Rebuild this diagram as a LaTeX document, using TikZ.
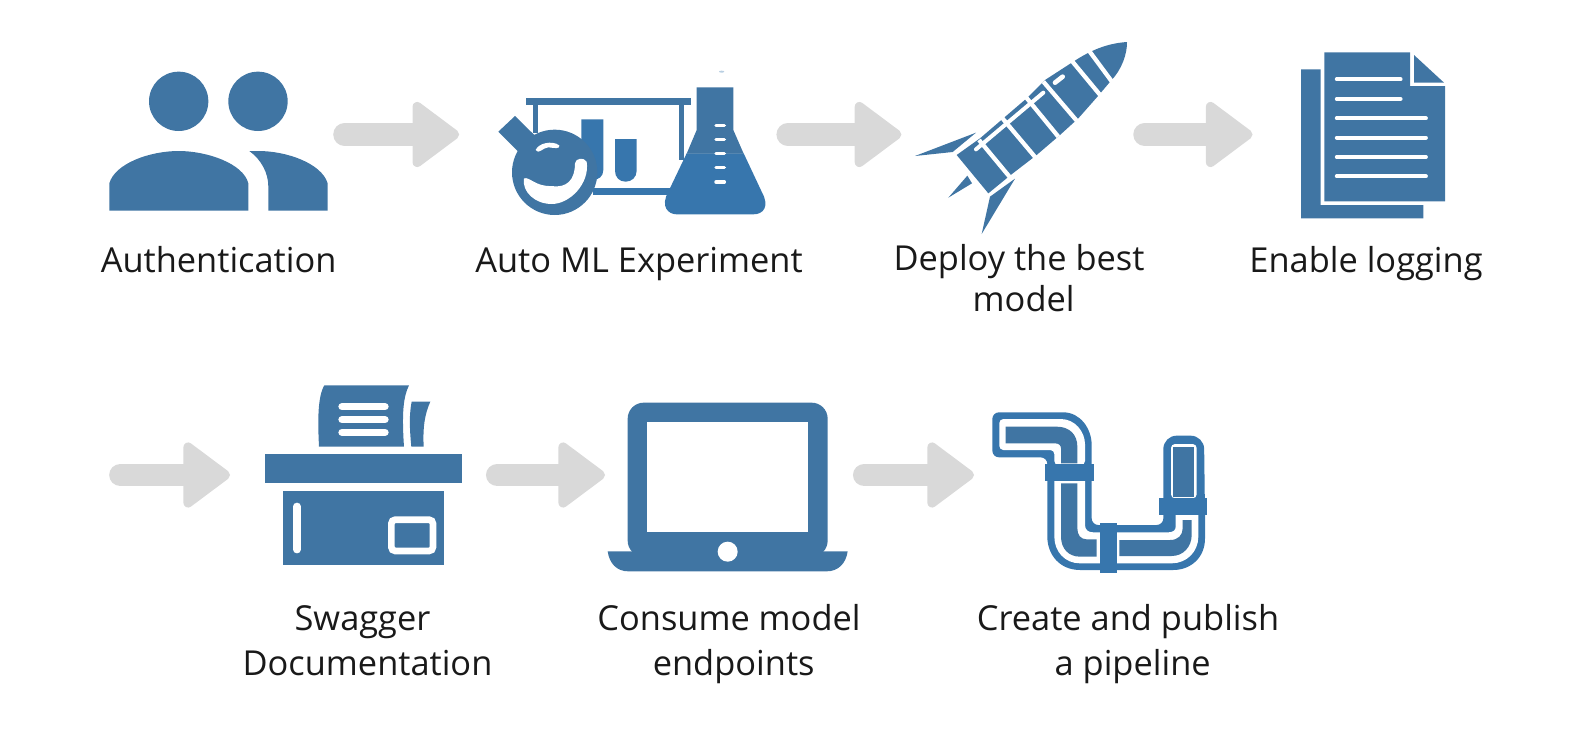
\documentclass[tikz,border=0pt]{standalone}
\usepackage{fontspec}
\setmainfont{Open Sans}
\usetikzlibrary{arrows.meta}
\definecolor{iconblue}{HTML}{4075A3}
\definecolor{pipeblue}{HTML}{3776AD}
\definecolor{arrowgray}{HTML}{D9D9D9}
\tikzset{
  iconbox/.style={inner sep=0pt,minimum height=30pt},
  flowarrow/.style={draw=arrowgray,line width=17pt,line cap=round,
    -{Triangle[length=37.5pt,width=54pt,round,line width=7pt,fill=arrowgray,color=arrowgray]}},
  caption/.style={font=\fontsize{25.8}{33.6}\selectfont,text=black!90,align=center,anchor=base},
  iconfill/.style={fill=iconblue,draw=none},
  pipefill/.style={fill=pipeblue,draw=none},
  pipeinner/.style={fill=iconblue,draw=none},
  whitefill/.style={fill=white,draw=none},
  whiteline/.style={draw=white,line cap=round},
  zoomed/.style={scale=0.33333}
}
\begin{document}
\begin{tikzpicture}[x=0.75pt,y=0.75pt,yscale=-1]
\useasboundingbox (0,0) rectangle (1595,753);

% Icon boxes, the arrows run between them
\node (authicon) [iconbox,minimum width=183.4pt] at (222,134.5) {};
\node (mlicon) [iconbox,minimum width=246pt] at (623.5,134.5) {};
\node (rocketicon) [iconbox,minimum width=182pt] at (1023,134.5) {};
\node (logicon) [iconbox,minimum width=148pt] at (1351.5,134.5) {};
\coordinate (swaggerin) at (120.5,475);
\node (swaggericon) [iconbox,minimum width=200pt] at (363.7,475) {};
\node (laptopicon) [iconbox,minimum width=194pt] at (734.7,475) {};
\node (pipeicon) [iconbox,minimum width=184pt] at (1097,475) {};

\draw [flowarrow] (authicon.east) -- (mlicon.west);
\draw [flowarrow] (mlicon.east) -- (rocketicon.west);
\draw [flowarrow] (rocketicon.east) -- (logicon.west);
\draw [flowarrow] (swaggerin) -- (swaggericon.west);
\draw [flowarrow] (swaggericon.east) -- (laptopicon.west);
\draw [flowarrow] (laptopicon.east) -- (pipeicon.west);

%Shape: two people
\begin{scope}[shift={(100,60)},zoomed]
\fill [iconfill] (236,124) circle (89);
\fill [iconfill] (474,124) circle (89);
\fill [iconfill] (28,452) -- (28,370) .. controls (45,310) and (150,273) .. (236,273) .. controls (320,273) and (430,310) .. (445,370) -- (445,452) -- cycle;
\fill [iconfill] (448,273) .. controls (485,300) and (505,340) .. (505,380) -- (505,452) -- (683,452) -- (683,370) .. controls (665,310) and (560,273) .. (475,273) -- cycle;
\end{scope}

%Shape: table with flasks
\begin{scope}[shift={(480,60)},zoomed]
\fill [iconfill] (139,113) rectangle (633,135);
\fill [iconfill] (160,135) rectangle (175,220);
\fill [iconfill] (598,135) rectangle (613,300);
\fill [pipefill] (340,383) rectangle (580,405);
\fill [pipefill] (304,178) -- (370,178) -- (370,330) .. controls (370,350) and (355,360) .. (337,360) .. controls (318,360) and (304,350) .. (304,330) -- cycle;
\fill [pipefill] (405,237) -- (470,237) -- (470,332) .. controls (470,352) and (455,365) .. (437,365) .. controls (418,365) and (405,352) .. (405,332) -- cycle;
% round flask
\fill [iconfill] (55,215) -- (105,168) -- (170,232) -- (120,280) -- cycle;
\fill [iconfill] (224,337) circle (128);
\fill [whitefill] (132,355) .. controls (150,350) and (165,380) .. (215,378) .. controls (260,385) and (285,360) .. (285,310) .. controls (287,295) and (310,290) .. (320,305) .. controls (330,370) and (270,432) .. (215,432) .. controls (165,432) and (125,395) .. (132,355) -- cycle;
\fill [whitefill] (167,270) .. controls (175,250) and (215,240) .. (238,256) .. controls (240,268) and (225,264) .. (205,262) .. controls (190,262) and (175,285) .. (167,270) -- cycle;
% conical flask
\fill [pipefill] (620,280) -- (565,395) .. controls (540,440) and (565,463) .. (590,463) -- (820,463) .. controls (850,463) and (870,440) .. (845,395) -- (791,280) -- cycle;
\fill [iconfill] (650,82) -- (760,82) -- (760,210) -- (791,281) -- (620,281) -- (650,210) -- cycle;
\foreach \ypos in {196,238,280,323,366}
  \draw [whiteline,line width=2.6pt] (708,\ypos) -- (733,\ypos);
\fill [fill=pipeblue!35] (725,35) ellipse (8 and 3);
\end{scope}

%Shape: rocket
\begin{scope}[shift={(890,30)},zoomed]
\fill [iconfill] (711,36) .. controls (650,40) and (600,62) .. (550,95) -- (465,150) -- (410,205) -- (340,265) -- (270,325) -- (200,375) -- (295,490) -- (362,435) -- (440,375) -- (510,315) -- (565,265) -- (625,197) -- (663,152) .. controls (695,120) and (712,70) .. (711,36) -- cycle;
\foreach \xa/\ya/\xb/\yb in {597/62/668/158,545/92/632/197,460/155/560/272,405/198/505/320,335/262/436/382,267/330/360/442}
  \draw [draw=white,line width=3.2pt] (\xa,\ya) -- (\xb,\yb);
\draw [whiteline,line width=3pt] (258,358) -- (460,188);
\draw [whiteline,line width=3.5pt] (495,158) -- (518,140);
\fill [iconfill] (258,308) -- (75,378) -- (188,366) -- cycle;
\fill [iconfill] (232,437) -- (175,503) -- (246,460) -- cycle;
\fill [iconfill] (375,446) -- (300,500) -- (275,612) -- cycle;
\end{scope}

%Shape: documents
\begin{scope}[shift={(1270,40)},zoomed]
\fill [iconfill] (93,88) -- (152,88) -- (152,495) -- (460,495) -- (460,535) -- (93,535) -- cycle;
\fill [iconfill] (163,37) -- (420,37) -- (420,138) -- (525,138) -- (525,484) -- (163,484) -- cycle;
\fill [iconfill] (432,45) -- (522,128) -- (432,128) -- cycle;
\foreach \ypos in {118,177}
  \draw [whiteline,line width=2.8pt] (200,\ypos) -- (392,\ypos);
\foreach \ypos in {235,293,351,409}
  \draw [whiteline,line width=2.8pt] (200,\ypos) -- (468,\ypos);
\end{scope}

%Shape: printer
\begin{scope}[shift={(250,370)},zoomed]
\fill [iconfill] (223,46) -- (477,46) .. controls (460,80) and (455,130) .. (462,230) -- (207,230) .. controls (203,150) and (203,80) .. (223,46) -- cycle;
\fill [iconfill] (485,95) -- (541,95) .. controls (525,130) and (518,170) .. (521,230) -- (484,230) .. controls (478,170) and (478,130) .. (485,95) -- cycle;
\foreach \ypos in {110,149,187}
  \draw [whiteline,line width=5.5pt] (276,\ypos) -- (405,\ypos);
\fill [iconfill] (46,253) rectangle (636,340);
\fill [iconfill] (100,362) rectangle (582,584);
\draw [whiteline,line width=5.5pt] (141,409) -- (141,539);
\draw [draw=white,line width=5pt,rounded corners=3pt] (424,449) rectangle (549,543);
\end{scope}

%Shape: laptop
\begin{scope}[shift={(600,390)},zoomed]
\fill [iconfill] [rounded corners=12pt] (83,38) rectangle (683,500);
\fill [whitefill] (142,96) rectangle (624,425);
\fill [iconfill] (23,484) -- (743,484) .. controls (738,520) and (715,544) .. (680,544) -- (85,544) .. controls (50,544) and (28,520) .. (23,484) -- cycle;
\fill [whitefill] (383,485) circle (30);
\end{scope}

%Shape: pipe
\begin{scope}[shift={(960,395)},zoomed]
\fill [pipefill] [rounded corners=5pt] (97,52) -- (290,52) .. controls (360,52) and (395,100) .. (395,170) -- (395,390) -- (610,390) [rounded corners=10pt] -- (610,122) -- (732,122) [sharp corners] -- (735,360) -- (735,430) .. controls (735,490) and (690,525) .. (640,525) -- (360,525) .. controls (300,525) and (262,480) .. (262,425) [rounded corners=5pt] -- (262,187) -- (97,187) -- cycle;
\fill [whitefill] [rounded corners=3pt] (118,72) -- (290,72) .. controls (345,72) and (375,110) .. (375,160) -- (375,210) -- (283,210) -- (283,165) -- (118,165) -- cycle;
\fill [pipeinner] (137,95) -- (290,95) .. controls (330,95) and (352,120) .. (352,155) -- (352,205) -- (303,205) -- (303,160) .. controls (303,150) and (295,145) .. (285,145) -- (137,145) -- cycle;
\fill [whitefill] (283,255) -- (375,255) -- (375,390) .. controls (375,405) and (385,412) .. (400,412) -- (625,412) .. controls (640,412) and (647,405) .. (647,395) -- (647,355) -- (715,355) -- (715,425) .. controls (715,470) and (680,505) .. (635,505) -- (360,505) .. controls (315,505) and (283,470) .. (283,425) -- cycle;
\fill [pipeinner] (303,265) -- (352,265) -- (352,400) .. controls (352,420) and (362,433) .. (380,433) -- (410,433) -- (410,485) -- (360,485) .. controls (325,485) and (303,460) .. (303,425) -- cycle;
\fill [pipeinner] (478,435) -- (630,435) .. controls (655,435) and (668,420) .. (668,400) -- (668,375) -- (695,375) -- (695,420) .. controls (695,455) and (670,483) .. (635,483) -- (478,483) -- cycle;
\fill [whitefill] [rounded corners=3pt] (633,147) rectangle (710,310);
\fill [pipeinner] (640,157) rectangle (702,307);
\fill [pipefill] (255,207) rectangle (402,258);
\fill [pipefill] (598,308) rectangle (742,360);
\fill [pipefill] (420,385) rectangle (470,533);
\end{scope}

% Text Node
\node (authlabel) [caption] at (218.6,272) {Authentication};
% Text Node
\node (mllabel) [caption] at (639,272) {Auto ML Experiment};
% Text Node
\node (rocketlabel) [caption] at (1019,311.7) {Deploy the best\\[-3pt]\hspace*{7pt}model};
% Text Node
\node (loglabel) [caption] at (1366,272) {Enable logging};
% Text Node
\node (swaggerlabel) [caption] at (367.5,675.7) {Swagger\hspace*{7.5pt}\\Documentation};
% Text Node
\node (laptoplabel) [caption] at (729,675.7) {Consume model\\\hspace*{7pt}endpoints};
% Text Node
\node (pipelabel) [caption] at (1128,675.7) {Create and publish\\\hspace*{7pt}a pipeline};

\end{tikzpicture}
\end{document}
